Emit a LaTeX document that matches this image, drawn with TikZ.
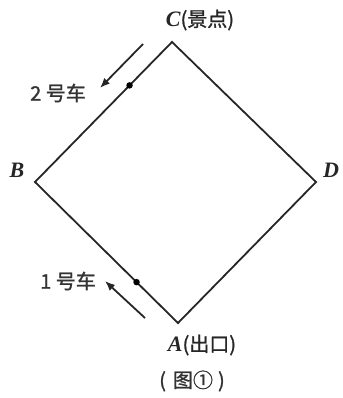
\documentclass[tikz,border=0pt]{standalone}
\usepackage{fontspec}
\setmainfont{Liberation Serif}
\newfontfamily\cjk[FakeBold=1.2]{Noto Sans CJK SC}
\usetikzlibrary{arrows.meta,positioning,calc}

\begin{document}
\begin{tikzpicture}[x=1pt, y=-1pt,
          road/.style={black!85, line width=1.8pt, line join=miter},
          car/.style={black!85, line width=1.8pt, -{Latex[length=10pt, width=8pt]}},
          punkt/.style={circle, fill=black, inner sep=0pt, minimum size=6.5pt},
          ecke/.style={font=\fontsize{22}{22}\selectfont\bfseries\itshape, text=black!85, inner sep=0pt},
          schild/.style={font=\fontsize{20}{20}\selectfont\cjk, text=black!80, inner sep=0pt}
        ]
          \useasboundingbox (0,0) rectangle (342,398);

          % Ecken
          \coordinate (A) at (178,323);
          \coordinate (B) at (35,182);
          \coordinate (C) at (172,42);
          \coordinate (D) at (316,182);

          % Rundweg
          \draw[road] (A) -- (B) -- (C) -- (D) -- cycle;

          % Fahrzeuge
          \node[punkt] (car2) at ($(C)!0.31!(B)$) {};
          \node[punkt] (car1) at ($(A)!0.29!(B)$) {};

          % Fahrtrichtung
          \coordinate (r2s) at (143,44);
          \coordinate (r2e) at (100,88);
          \coordinate (r1s) at (145,318);
          \coordinate (r1e) at (105,281);
          \draw[car] (r2s) -- (r2e);
          \draw[car] (r1s) -- (r1e);

          % Beschriftung
          \node[schild] (l2) at (58,93) {2 号车};
          \node[schild] (l1) at (68,281) {1 号车};
          \node[ecke] (lC) at (200,20) {C{\cjk\fontsize{20}{20}\selectfont\mdseries\upshape(景点)}};
          \node[ecke] (lB) at (17,170) {B};
          \node[ecke] (lD) at (331,170) {D};
          \node[ecke] (lA) at (202,345) {A{\cjk\fontsize{20}{20}\selectfont\mdseries\upshape(出口)}};
          \node[schild] (cap) at (192,381) {(\hspace{7pt}图①\hspace{5pt})};
        \end{tikzpicture}
\end{document}
